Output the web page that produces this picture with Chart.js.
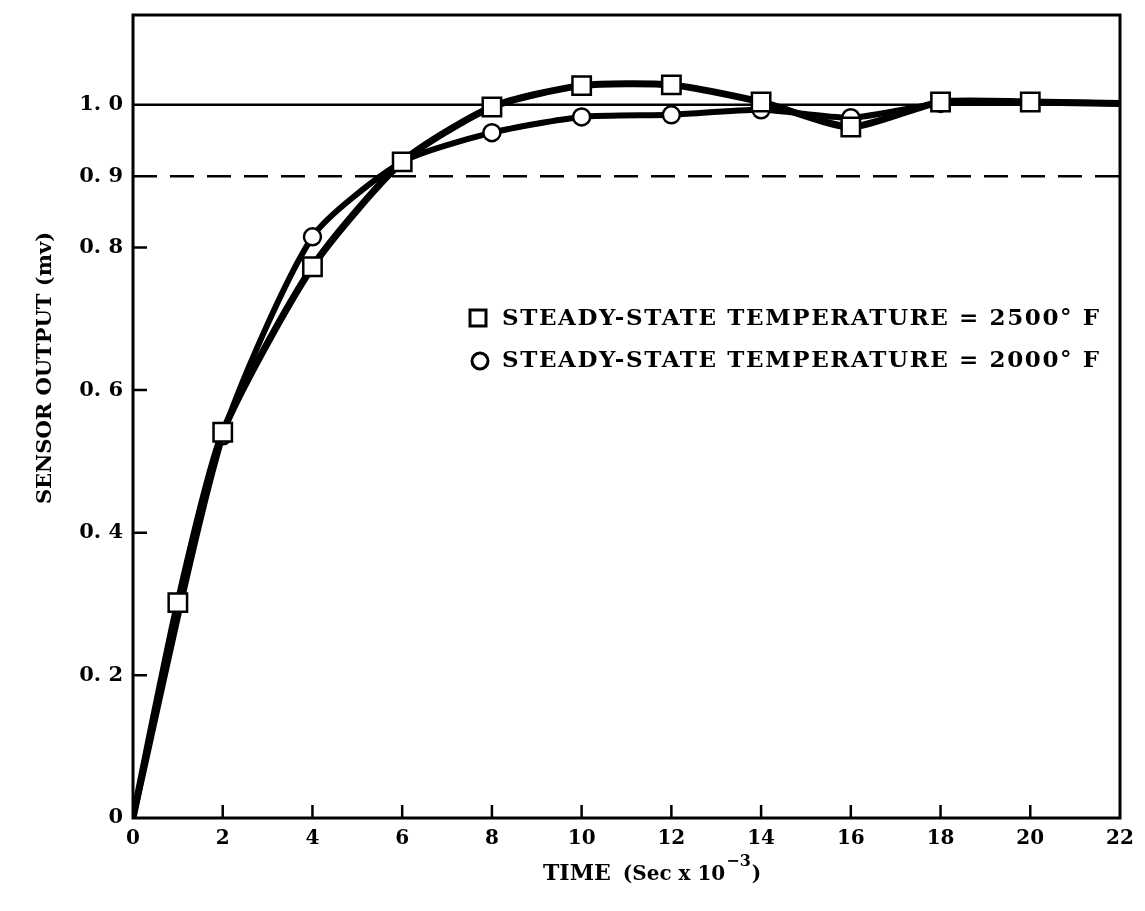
<!DOCTYPE html>
<html>
<head>
<meta charset="utf-8">
<script src="https://cdn.jsdelivr.net/npm/chart.js@4.4.1/dist/chart.umd.min.js"></script>
<style>
  html, body { margin: 0; padding: 0; background: #fff; }
  #wrap { width: 1145px; height: 911px; position: relative; }
</style>
</head>
<body>
<div id="wrap"><canvas id="sensorChart"></canvas></div>
<script>
// sensor response, time in sec x 10^-3, output in mv
const timeHot = [0, 1, 2, 4, 6, 8, 10, 12, 14, 16, 18, 20, 22];
const outputHot = [0, 0.302, 0.541, 0.773, 0.92, 0.997, 1.027, 1.028, 1.004, 0.969, 1.004, 1.004, 1.002];
const timeWarm = [0, 2, 4, 6, 8, 10, 12, 14, 16, 18, 20, 22];
const outputWarm = [0, 0.536, 0.815, 0.92, 0.961, 0.983, 0.986, 0.993, 0.982, 1.002, 1.004, 1.002];

const yTickValues = [0, 0.2, 0.4, 0.6, 0.8, 0.9, 1.0];
const xTickValues = [0, 2, 4, 6, 8, 10, 12, 14, 16, 18, 20, 22];
const steadyLevel = 1.0;
const ninetyLevel = 0.9;

const legendLabels = [
  'STEADY-STATE TEMPERATURE = 2500\u00b0 F',
  'STEADY-STATE TEMPERATURE = 2000\u00b0 F'
];
const yTitle = 'SENSOR OUTPUT (mv)';

const FONT = '"DejaVu Serif", "Liberation Serif", serif';

function toPoints(xs, ys) {
  return xs.map((t, i) => ({ x: t, y: ys[i] }));
}

// no marker on the first and last point of each curve
function markerRadius(size) {
  return ctx => {
    const n = ctx.dataset.data.length;
    return (ctx.dataIndex === 0 || ctx.dataIndex === n - 1) ? 0 : size;
  };
}

// frame, inward ticks, legend and axis titles
const decorations = {
  id: 'decorations',
  afterDraw(chart) {
    const { ctx, chartArea: a, scales: { x, y } } = chart;
    ctx.save();
    ctx.strokeStyle = '#000';
    ctx.fillStyle = '#000';

    ctx.lineWidth = 3;
    ctx.strokeRect(a.left, a.top, a.right - a.left, a.bottom - a.top);

    ctx.lineWidth = 2.5;
    ctx.beginPath();
    yTickValues.forEach(v => {
      if (v === 0 || v === steadyLevel || v === ninetyLevel) return;
      const py = y.getPixelForValue(v);
      ctx.moveTo(a.left, py);
      ctx.lineTo(a.left + 14, py);
    });
    xTickValues.forEach(v => {
      if (v === x.min || v === x.max) return;
      const px = x.getPixelForValue(v);
      ctx.moveTo(px, a.bottom);
      ctx.lineTo(px, a.bottom - 13);
    });
    ctx.stroke();

    // legend
    ctx.lineWidth = 3;
    ctx.strokeRect(470, 310, 16, 16);
    ctx.beginPath();
    ctx.arc(480, 361, 8, 0, Math.PI * 2);
    ctx.stroke();

    ctx.font = 'bold 23px ' + FONT;
    ctx.textBaseline = 'middle';
    ctx.textAlign = 'left';
    const target = 597;
    const w = ctx.measureText(legendLabels[0]).width;
    if ('letterSpacing' in ctx && w < target) {
      ctx.letterSpacing = ((target - w) / (legendLabels[0].length - 1)).toFixed(2) + 'px';
    }
    ctx.fillText(legendLabels[0], 502, 319);
    ctx.fillText(legendLabels[1], 502, 361);
    if ('letterSpacing' in ctx) ctx.letterSpacing = '0px';

    // y title
    ctx.save();
    ctx.translate(46, 368);
    ctx.rotate(-Math.PI / 2);
    ctx.textAlign = 'center';
    ctx.font = 'bold 21px ' + FONT;
    ctx.fillText(yTitle, 0, 0);
    ctx.restore();

    // x title with superscript exponent
    let cx = 543;
    const base = 880;
    ctx.textBaseline = 'alphabetic';
    ctx.font = 'bold 22px ' + FONT;
    ctx.fillText('TIME', cx, base);
    cx += ctx.measureText('TIME').width + 12;
    ctx.font = 'bold 20px ' + FONT;
    ctx.fillText('(Sec x 10', cx, base);
    cx += ctx.measureText('(Sec x 10').width + 1;
    ctx.font = 'bold 16px ' + FONT;
    ctx.fillText('\u22123', cx, base - 14);
    cx += ctx.measureText('\u22123').width + 1;
    ctx.font = 'bold 20px ' + FONT;
    ctx.fillText(')', cx, base);

    ctx.restore();
  }
};

const chart = new Chart(document.getElementById('sensorChart'), {
  type: 'line',
  data: {
    datasets: [
      {
        label: legendLabels[0],
        data: toPoints(timeHot, outputHot),
        borderColor: '#000',
        borderWidth: 7,
        tension: 0.22,
        pointStyle: 'rect',
        pointRadius: markerRadius(13),
        pointBorderWidth: 2.5,
        pointBorderColor: '#000',
        pointBackgroundColor: '#fff',
        order: 1
      },
      {
        label: legendLabels[1],
        data: toPoints(timeWarm, outputWarm),
        borderColor: '#000',
        borderWidth: 6,
        tension: 0.22,
        pointStyle: 'circle',
        pointRadius: markerRadius(8.5),
        pointBorderWidth: 2.5,
        pointBorderColor: '#000',
        pointBackgroundColor: ctx => timeWarm[ctx.dataIndex] === 18 ? '#000' : '#fff',
        order: 2
      },
      {
        label: 'steady',
        data: toPoints([0, 22], [steadyLevel, steadyLevel]),
        borderColor: '#000',
        borderWidth: 2.5,
        pointRadius: 0,
        order: 3
      },
      {
        label: 'ninety',
        data: toPoints([0, 22], [ninetyLevel, ninetyLevel]),
        borderColor: '#000',
        borderWidth: 2.5,
        borderDash: [24, 13],
        pointRadius: 0,
        order: 3
      }
    ]
  },
  options: {
    responsive: true,
    maintainAspectRatio: false,
    animation: false,
    layout: { padding: { left: 0, top: 15, right: 25, bottom: 0 } },
    plugins: {
      legend: { display: false },
      tooltip: { enabled: false }
    },
    scales: {
      x: {
        type: 'linear',
        min: 0,
        max: 22,
        grid: { display: false, drawTicks: false },
        border: { display: false },
        afterBuildTicks: scale => { scale.ticks = xTickValues.map(v => ({ value: v })); },
        afterFit: scale => { scale.height = 93; },
        ticks: {
          color: '#000',
          padding: 9,
          maxRotation: 0,
          font: { family: FONT, size: 20, weight: 'bold' }
        }
      },
      y: {
        type: 'linear',
        min: 0,
        max: 1.126,
        grid: { display: false, drawTicks: false },
        border: { display: false },
        afterBuildTicks: scale => { scale.ticks = yTickValues.map(v => ({ value: v })); },
        afterFit: scale => { scale.width = 133; scale.paddingTop = 0; },
        ticks: {
          color: '#000',
          padding: 10,
          font: { family: FONT, size: 21, weight: 'bold' },
          callback: v => v === 0 ? '0' : v.toFixed(1).replace('.', '. ')
        }
      }
    }
  },
  plugins: [decorations]
});
</script>
</body>
</html>
